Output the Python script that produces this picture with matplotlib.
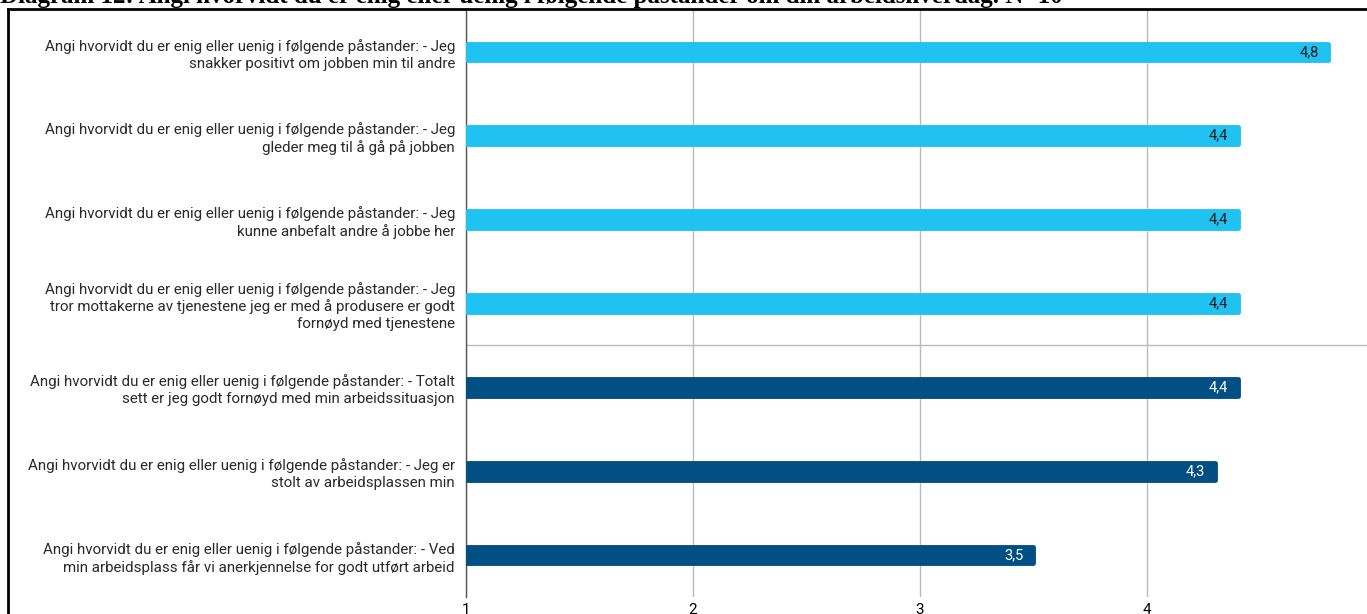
import matplotlib
matplotlib.use("Agg")
import matplotlib.pyplot as plt
from matplotlib.lines import Line2D

# data
labels = [
    "Angi hvorvidt du er enig eller uenig i følgende påstander: - Jeg\nsnakker positivt om jobben min til andre",
    "Angi hvorvidt du er enig eller uenig i følgende påstander: - Jeg\ngleder meg til å gå på jobben",
    "Angi hvorvidt du er enig eller uenig i følgende påstander: - Jeg\nkunne anbefalt andre å jobbe her",
    "Angi hvorvidt du er enig eller uenig i følgende påstander: - Jeg\ntror mottakerne av tjenestene jeg er med å produsere er godt\nfornøyd med tjenestene",
    "Angi hvorvidt du er enig eller uenig i følgende påstander: - Totalt\nsett er jeg godt fornøyd med min arbeidssituasjon",
    "Angi hvorvidt du er enig eller uenig i følgende påstander: - Jeg er\nstolt av arbeidsplassen min",
    "Angi hvorvidt du er enig eller uenig i følgende påstander: - Ved\nmin arbeidsplass får vi anerkjennelse for godt utført arbeid",
]
values = [4.8, 4.4, 4.4, 4.4, 4.4, 4.3, 3.5]
group = [0, 0, 0, 0, 1, 1, 1]
xticks = [1, 2, 3, 4]
title = "Diagram 12: Angi hvorvidt du er enig eller uenig i følgende påstander om din arbeidshverdag. N=10"

light = "#1fc2f1"
dark = "#024f84"
bar_colors = [light if g == 0 else dark for g in group]
txt_colors = ["#1a1a1a" if g == 0 else "white" for g in group]

W, H = 1367, 614
fig = plt.figure(figsize=(W / 100, H / 100), dpi=100)
ax = fig.add_axes((466 / W, (H - 597) / H, 1 - 466 / W, 587 / H))

pos = list(range(len(values)))
widths = [v - 1 for v in values]
ax.barh(pos, widths, left=1, height=0.2, color=bar_colors,
        edgecolor=bar_colors, linewidth=3.5, joinstyle="round", zorder=3)

for p, v, c in zip(pos, values, txt_colors):
    ax.annotate(f"{v:.1f}".replace(".", ","), (v, p), xytext=(-7, 0),
                textcoords="offset points", ha="right", va="center",
                fontsize=10.5, family="Roboto", color=c, zorder=4)

ax.set_xlim(1, 4.97)
ax.set_ylim(len(values) - 0.5, -0.5)
ax.set_yticks(pos)
ax.set_yticklabels(labels, fontsize=10.9, family="Roboto", color="#2a2a2a",
                   linespacing=1.25)
ax.set_xticks(xticks)
ax.set_xticklabels([str(t) for t in xticks], fontsize=11, family="Roboto")
ax.tick_params(axis="both", length=0)
ax.tick_params(axis="y", pad=8)
ax.tick_params(axis="x", pad=4)

ax.grid(axis="x", color="#bbbbbb", linewidth=1, zorder=0)
ax.axhline(3.5, color="#bbbbbb", linewidth=1, zorder=0)
for s in ["top", "right", "bottom"]:
    ax.spines[s].set_visible(False)
ax.spines["left"].set_color("#555555")
ax.spines["left"].set_linewidth(1)

# page frame and clipped caption
fig.add_artist(Line2D([8 / W, 8 / W], [0, 1 - 9 / H], color="black", linewidth=2))
fig.add_artist(Line2D([8 / W, 1], [1 - 9 / H, 1 - 9 / H], color="black", linewidth=2))
fig.text(0.0, 1 - 3 / H, title, family="Liberation Serif", fontweight="bold",
         fontsize=18, va="baseline", ha="left")

fig.savefig("out.png", dpi=100)
